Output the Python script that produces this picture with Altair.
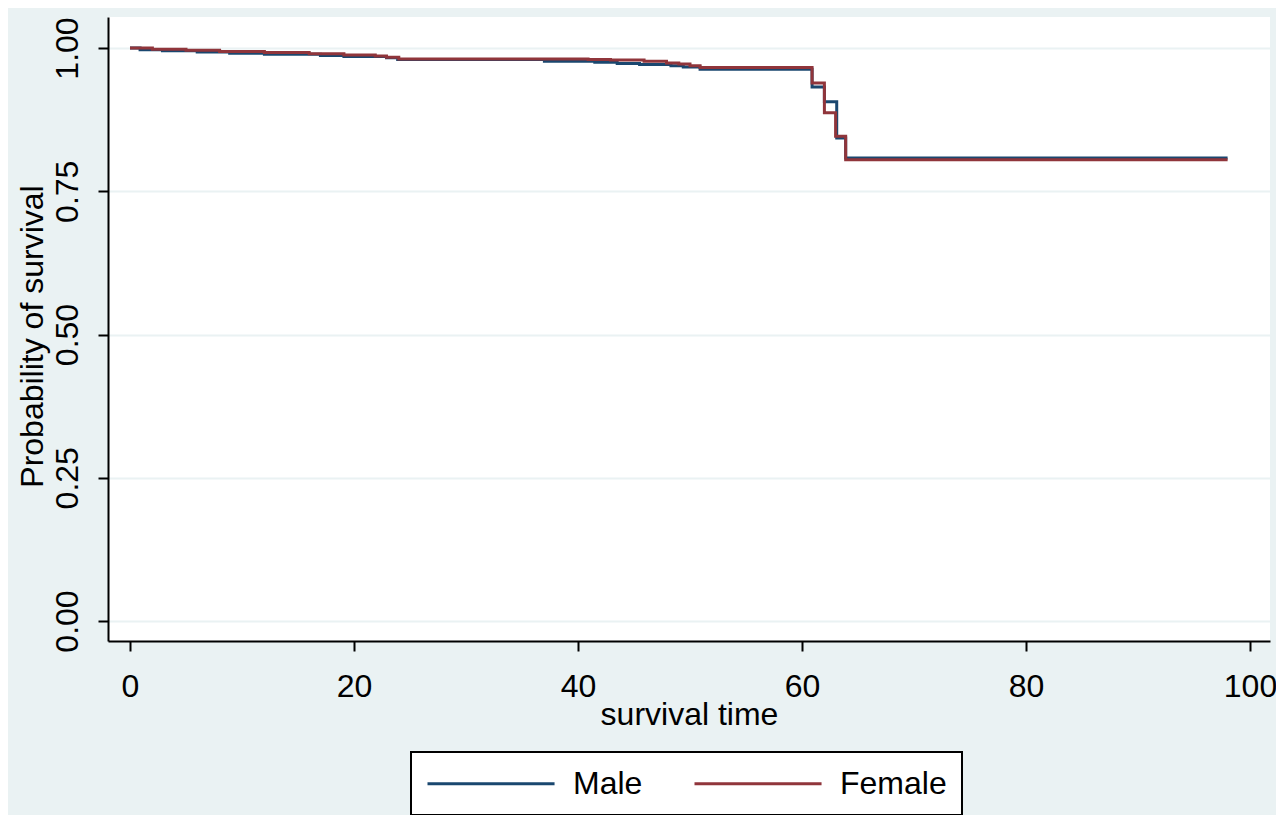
import altair as alt
import pandas as pd

groups = ["Male", "Female"]
colors = ["#1a476f", "#90353b"]

male_time = [0, 0.9, 2.9, 6.0, 8.9, 12.0, 17.0, 19.1, 22.9, 23.9, 37.0, 41.5, 43.5, 45.5,
             48.3, 49.4, 50.9, 60.9, 62.0, 63.1, 63.9, 98.0]
male_surv = [1.0, 0.997, 0.995, 0.993, 0.991, 0.989, 0.987, 0.985, 0.983, 0.980, 0.977, 0.975,
             0.973, 0.971, 0.969, 0.967, 0.963, 0.932, 0.906, 0.843, 0.808, 0.808]

female_time = [0, 2.0, 5.0, 8.0, 12.0, 16.0, 19.1, 21.9, 22.9, 24.0, 40.9, 42.9, 45.9, 47.9,
               49.0, 50.0, 50.9, 60.9, 62.0, 63.0, 63.9, 98.0]
female_surv = [1.0, 0.998, 0.996, 0.994, 0.992, 0.990, 0.988, 0.986, 0.984, 0.981, 0.980, 0.979,
               0.977, 0.974, 0.972, 0.969, 0.966, 0.939, 0.887, 0.846, 0.805, 0.805]

x_ticks = [0, 20, 40, 60, 80, 100]
y_ticks = [0.0, 0.25, 0.5, 0.75, 1.0]

rows = []
for t, s in zip(male_time, male_surv):
    rows.append({"time": t, "surv": s, "sex": "Male"})
for t, s in zip(female_time, female_surv):
    rows.append({"time": t, "surv": s, "sex": "Female"})
df = pd.DataFrame(rows)

FONT = "Liberation Sans"

chart = alt.Chart(df).mark_line(interpolate="step-after", strokeWidth=3, strokeCap="butt").encode(
    x=alt.X("time:Q",
            scale=alt.Scale(domain=[-1.964, 101.786], nice=False, zero=False),
            axis=alt.Axis(values=x_ticks, title="survival time", grid=False,
                          labelBaseline="alphabetic", labelPadding=45,
                          titleBaseline="alphabetic", titleY=83, titleFontWeight="normal")),
    y=alt.Y("surv:Q",
            scale=alt.Scale(domain=[-0.0349, 1.0541], nice=False, zero=False),
            axis=alt.Axis(values=y_ticks, format=".2f", title="Probability of survival",
                          labelAngle=270, labelAlign="center", labelBaseline="bottom",
                          labelPadding=14, grid=True, gridColor="#EAF2F3", gridWidth=2,
                          titleAngle=270, titleAlign="center", titleBaseline="alphabetic",
                          titleX=-66, titleY=319, titleFontWeight="normal")),
    color=alt.Color("sex:N",
                    scale=alt.Scale(domain=groups, range=colors),
                    legend=alt.Legend(title=None, orient="none", legendX=303, legendY=735,
                                      direction="horizontal",
                                      symbolType="M-1,0H7.47",
                                      symbolSize=900, symbolStrokeWidth=3,
                                      labelFontSize=32, labelFont=FONT, labelColor="black",
                                      labelOffset=114, columnPadding=8, padding=15,
                                      gridAlign="all",
                                      fillColor="white", strokeColor="black")),
    order=alt.Order("time:Q"),
).properties(
    width=1162,
    height=624,
    autosize=alt.AutoSizeParams(type="none"),
    padding={"left": 100, "top": 9, "right": 6, "bottom": 174},
).configure(
    background="#EAF2F3",
).configure_view(
    fill="white",
    stroke=None,
).configure_legend(
    strokeWidth=2,
).configure_axis(
    domainColor="black",
    domainWidth=2,
    tickColor="black",
    tickWidth=2,
    tickSize=10,
    labelFont=FONT,
    labelFontSize=32,
    labelColor="black",
    titleFont=FONT,
    titleFontSize=32,
    titleColor="black",
)

chart.save("out.html", embed_options={"renderer": "svg", "actions": False})
